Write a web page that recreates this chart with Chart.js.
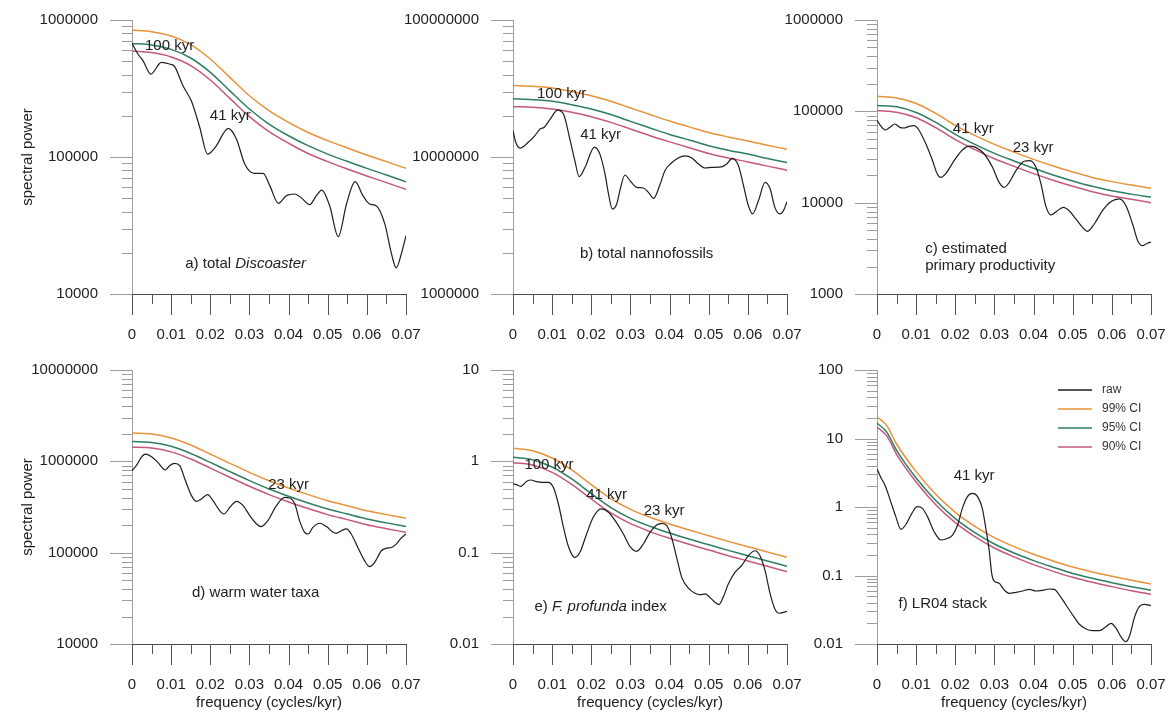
<!DOCTYPE html>
<html lang="en">
<head>
<meta charset="UTF-8">
<title>Spectral power of six records</title>
<script src="https://cdn.jsdelivr.net/npm/chart.js"></script>
<style>
  html, body { margin: 0; padding: 0; background: #fff; overflow: hidden; }
  .panel { position: absolute; width: 430px; height: 366px; }
</style>
</head>
<body>
<div class="panel" style="left:2px;top:0px"><canvas id="chartA" width="430" height="366"></canvas></div>
<div class="panel" style="left:383px;top:0px"><canvas id="chartB" width="430" height="366"></canvas></div>
<div class="panel" style="left:747px;top:0px"><canvas id="chartC" width="430" height="366"></canvas></div>
<div class="panel" style="left:2px;top:350px"><canvas id="chartD" width="430" height="366"></canvas></div>
<div class="panel" style="left:383px;top:350px"><canvas id="chartE" width="430" height="366"></canvas></div>
<div class="panel" style="left:747px;top:350px"><canvas id="chartF" width="430" height="366"></canvas></div>

<script>
// x axis ticks (frequency, cycles/kyr)
const xTickValues = [0, 0.01, 0.02, 0.03, 0.04, 0.05, 0.06, 0.07];
const xTickLabels = ['0', '0.01', '0.02', '0.03', '0.04', '0.05', '0.06', '0.07'];

// frequencies where the confidence curves were read
const ciFreq = [0, 0.005, 0.01, 0.015, 0.02, 0.025, 0.03, 0.035, 0.04, 0.045, 0.05, 0.055, 0.06, 0.065, 0.07];
const ciFreqF = [0, 0.0025, 0.005, 0.01, 0.015, 0.02, 0.025, 0.03, 0.035, 0.04, 0.045, 0.05, 0.055, 0.06, 0.065, 0.07];

// a) total Discoaster
const aDecades = [10000, 100000, 1000000];
const aRawF = [0, 0.0015, 0.0028, 0.0048, 0.0075, 0.0096, 0.0109, 0.0130, 0.0152, 0.0173, 0.0193, 0.0213, 0.0246, 0.0267, 0.0288, 0.0313, 0.0335, 0.0352, 0.0374, 0.0394, 0.0416, 0.0433, 0.0454, 0.0471, 0.0485, 0.0505, 0.0527, 0.0548, 0.0570, 0.0590, 0.0607, 0.0624, 0.0646, 0.0663, 0.0675, 0.0688, 0.07];
const aRawP = [675000, 565000, 505000, 403000, 491000, 477000, 457000, 332000, 255000, 165000, 105000, 118000, 162000, 135000, 89000, 76000, 76000, 61800, 45900, 52200, 53700, 50200, 44900, 52200, 57400, 44100, 26200, 45400, 66100, 52200, 45400, 44100, 32400, 19600, 15500, 19600, 26700];
const a99 = [845000, 822000, 764000, 661000, 519000, 381000, 280000, 218000, 179000, 151000, 131600, 116400, 103400, 92500, 82600];
const a95 = [675000, 657000, 610000, 528000, 415000, 304000, 224000, 174000, 143000, 121000, 105000, 93000, 82600, 73900, 66000];
const a90 = [594000, 578000, 537000, 465000, 365000, 268000, 197000, 153000, 126000, 106000, 92500, 81800, 72700, 65000, 58000];

// b) total nannofossils
const bDecades = [1000000, 10000000, 100000000];
const bRawF = [0, 0.0007, 0.0018, 0.0039, 0.0056, 0.0069, 0.0080, 0.0095, 0.0114, 0.0129, 0.0146, 0.0158, 0.0169, 0.0184, 0.0208, 0.0222, 0.0235, 0.0244, 0.0254, 0.0265, 0.0273, 0.0286, 0.0299, 0.0316, 0.0333, 0.0346, 0.0359, 0.0376, 0.0388, 0.0405, 0.0422, 0.0439, 0.0457, 0.0474, 0.0491, 0.0508, 0.0533, 0.0546, 0.0560, 0.0576, 0.0588, 0.0600, 0.0612, 0.0627, 0.0644, 0.0657, 0.0669, 0.0682, 0.0691, 0.07];
const bRawP = [15.6e6, 12.8e6, 11.6e6, 12.8e6, 14.3e6, 16.0e6, 16.5e6, 18.9e6, 22.0e6, 20.6e6, 13.2e6, 9.4e6, 7.19e6, 8.41e6, 11.8e6, 10.5e6, 7.52e6, 5.37e6, 4.17e6, 4.54e6, 5.68e6, 7.39e6, 6.72e6, 6.01e6, 5.94e6, 5.52e6, 4.99e6, 6.35e6, 7.95e6, 9.04e6, 9.84e6, 10.2e6, 9.84e6, 8.89e6, 8.31e6, 8.40e6, 8.48e6, 8.89e6, 9.78e6, 8.64e6, 6.35e6, 4.54e6, 3.84e6, 4.80e6, 6.53e6, 5.84e6, 4.29e6, 3.84e6, 4.06e6, 4.72e6];
const b99 = [33.2e6, 32.8e6, 31.9e6, 30.1e6, 28.0e6, 25.5e6, 22.8e6, 20.4e6, 18.3e6, 16.6e6, 15.1e6, 14.0e6, 13.1e6, 12.2e6, 11.4e6];
const b95 = [26.6e6, 26.2e6, 25.5e6, 24.1e6, 22.4e6, 20.4e6, 18.2e6, 16.3e6, 14.6e6, 13.3e6, 12.1e6, 11.2e6, 10.5e6, 9.76e6, 9.12e6];
const b90 = [23.3e6, 23.1e6, 22.4e6, 21.2e6, 19.7e6, 17.9e6, 16.0e6, 14.3e6, 12.9e6, 11.7e6, 10.6e6, 9.84e6, 9.21e6, 8.58e6, 8.01e6];

// c) estimated primary productivity
const cDecades = [1000, 10000, 100000, 1000000];
const cRawF = [0, 0.0009, 0.0021, 0.0035, 0.0046, 0.0058, 0.0069, 0.0082, 0.0095, 0.0107, 0.0125, 0.0142, 0.0154, 0.0163, 0.0176, 0.0197, 0.0218, 0.0235, 0.0252, 0.0274, 0.0295, 0.0312, 0.0325, 0.0338, 0.0355, 0.0376, 0.0391, 0.0406, 0.0419, 0.0431, 0.0444, 0.0461, 0.0476, 0.0491, 0.0508, 0.0525, 0.0538, 0.0555, 0.0576, 0.0598, 0.0619, 0.0636, 0.0653, 0.0666, 0.0679, 0.0691, 0.07];
const cRawP = [80400, 69700, 62500, 67900, 72700, 66800, 65700, 68500, 69700, 62500, 43900, 28800, 20600, 18900, 20900, 28800, 37700, 41700, 40300, 34100, 24400, 16700, 14700, 16700, 22400, 28400, 28800, 24400, 16000, 9270, 7330, 8170, 8890, 8170, 6630, 5370, 4860, 5840, 8170, 10300, 11000, 9270, 5840, 3840, 3380, 3590, 3710];
const c99 = [146000, 140000, 122000, 95100, 70300, 54600, 43500, 35900, 29800, 25200, 21700, 18900, 17000, 15600, 14400];
const c95 = [116000, 112000, 97200, 75800, 56000, 43500, 34700, 28600, 23800, 20100, 17300, 15100, 13500, 12400, 11500];
const c90 = [102000, 97600, 85000, 66300, 49000, 38100, 30300, 25000, 20800, 17600, 15100, 13200, 11800, 10900, 10000];

// d) warm water taxa
const dDecades = [10000, 100000, 1000000, 10000000];
const dRawF = [0, 0.0011, 0.0024, 0.0034, 0.0049, 0.0066, 0.0085, 0.0096, 0.0109, 0.0122, 0.0135, 0.0152, 0.0164, 0.0177, 0.0193, 0.0207, 0.0224, 0.0235, 0.0250, 0.0267, 0.0284, 0.0301, 0.0318, 0.0330, 0.0347, 0.0369, 0.0390, 0.0403, 0.0416, 0.0428, 0.0441, 0.0450, 0.0462, 0.0480, 0.0497, 0.0514, 0.0522, 0.0535, 0.0548, 0.0560, 0.0577, 0.0594, 0.0607, 0.0620, 0.0637, 0.0650, 0.0663, 0.0675, 0.0688, 0.07];
const dRawP = [791000, 897000, 1110000, 1200000, 1130000, 975000, 804000, 897000, 951000, 897000, 640000, 421000, 365000, 387000, 432000, 371000, 288000, 265000, 314000, 365000, 327000, 254000, 206000, 193000, 224000, 327000, 403000, 397000, 341000, 224000, 167000, 160000, 189000, 210000, 193000, 167000, 163000, 174000, 182000, 160000, 114000, 81800, 70300, 78400, 105000, 112000, 114000, 124000, 145000, 160000];
const d99 = [2040000, 1990000, 1800000, 1510000, 1200000, 951000, 758000, 614000, 511000, 432000, 371000, 327000, 288000, 261000, 238000];
const d95 = [1650000, 1610000, 1460000, 1220000, 973000, 771000, 615000, 498000, 414000, 350000, 301000, 265000, 234000, 212000, 193000];
const d90 = [1430000, 1400000, 1270000, 1060000, 844000, 669000, 533000, 432000, 359000, 304000, 261000, 230000, 202000, 183000, 167000];

// e) F. profunda index
const eDecades = [0.01, 0.1, 1, 10];
const eRawF = [0, 0.0009, 0.0020, 0.0035, 0.0046, 0.0058, 0.0073, 0.0090, 0.0103, 0.0116, 0.0129, 0.0141, 0.0154, 0.0158, 0.0171, 0.0188, 0.0205, 0.0225, 0.0244, 0.0261, 0.0282, 0.0299, 0.0316, 0.0333, 0.0350, 0.0367, 0.0380, 0.0393, 0.0405, 0.0418, 0.0431, 0.0448, 0.0465, 0.0478, 0.0491, 0.0503, 0.0516, 0.0526, 0.0537, 0.0550, 0.0567, 0.0584, 0.0601, 0.0618, 0.0631, 0.0644, 0.0657, 0.0669, 0.0680, 0.0691, 0.07];
const eRawP = [0.565, 0.555, 0.532, 0.604, 0.625, 0.604, 0.589, 0.589, 0.519, 0.341, 0.189, 0.119, 0.0904, 0.0889, 0.1009, 0.160, 0.244, 0.301, 0.277, 0.224, 0.160, 0.1163, 0.1034, 0.1245, 0.167, 0.201, 0.2096, 0.1977, 0.147, 0.0889, 0.0537, 0.0410, 0.0359, 0.0347, 0.0353, 0.0324, 0.0286, 0.0270, 0.0324, 0.0454, 0.0609, 0.0721, 0.0927, 0.105, 0.0927, 0.0635, 0.0353, 0.0242, 0.0217, 0.0222, 0.0228];
const e99 = [1.388, 1.309, 1.088, 0.804, 0.555, 0.390, 0.298, 0.244, 0.206, 0.177, 0.1535, 0.133, 0.1163, 0.1017, 0.0889];
const e95 = [1.106, 1.043, 0.867, 0.641, 0.442, 0.311, 0.2375, 0.1945, 0.164, 0.141, 0.1223, 0.106, 0.0927, 0.081, 0.0709];
const e90 = [0.967, 0.912, 0.758, 0.560, 0.387, 0.272, 0.2077, 0.170, 0.1436, 0.1234, 0.107, 0.0927, 0.0811, 0.0709, 0.062];

// f) LR04 stack
const fDecades = [0.01, 0.1, 1, 10, 100];
const fRawF = [0, 0.0009, 0.0022, 0.0035, 0.0048, 0.0061, 0.0073, 0.0089, 0.0103, 0.0116, 0.0129, 0.0146, 0.0163, 0.0176, 0.0193, 0.0206, 0.0218, 0.0231, 0.0244, 0.0257, 0.0269, 0.0278, 0.0287, 0.0293, 0.0299, 0.0312, 0.0325, 0.0338, 0.0355, 0.0372, 0.0389, 0.0406, 0.0423, 0.0440, 0.0453, 0.0466, 0.0483, 0.0500, 0.0517, 0.0534, 0.0551, 0.0568, 0.0585, 0.0598, 0.0611, 0.0623, 0.0636, 0.0646, 0.0657, 0.0670, 0.0683, 0.07];
const fRawP = [3.59, 2.77, 1.98, 1.20, 0.723, 0.472, 0.546, 0.808, 1.01, 0.955, 0.723, 0.436, 0.330, 0.341, 0.390, 0.546, 0.955, 1.42, 1.58, 1.42, 0.955, 0.489, 0.223, 0.1076, 0.0832, 0.0769, 0.0614, 0.0549, 0.0568, 0.0594, 0.0628, 0.0594, 0.0608, 0.0635, 0.0628, 0.0519, 0.0371, 0.0265, 0.0194, 0.0166, 0.0157, 0.0157, 0.0179, 0.0200, 0.0169, 0.0128, 0.0108, 0.0135, 0.0237, 0.0351, 0.0379, 0.0363];
const f99 = [20.8, 15.4, 8.31, 3.28, 1.53, 0.836, 0.522, 0.357, 0.264, 0.204, 0.163, 0.133, 0.1125, 0.0973, 0.085, 0.0752];
const f95 = [16.8, 12.4, 6.71, 2.65, 1.24, 0.675, 0.422, 0.288, 0.213, 0.165, 0.132, 0.107, 0.0909, 0.0786, 0.0687, 0.0608];
const f90 = [14.7, 10.9, 5.88, 2.32, 1.08, 0.591, 0.369, 0.252, 0.187, 0.144, 0.115, 0.094, 0.0795, 0.0688, 0.0601, 0.0532];

const FONT = "'Liberation Sans', Arial, Helvetica, sans-serif";
const TXT = '#222';
const colRaw = '#1e1e1e', col99 = '#e8923a', col95 = '#2f7d63', col90 = '#c4587f';
const CLEAR = 'rgba(0,0,0,0)';

Chart.defaults.font.family = FONT;
Chart.defaults.color = TXT;

function toXY(xs, ys) {
  return xs.map((x, i) => ({ x: x, y: ys[i] }));
}

// tick marks drawn outside the plot, long at decades / labelled freqs, short otherwise
const axisMarks = {
  id: 'axisMarks',
  afterDraw(chart) {
    const { ctx, chartArea: ca, scales: { x, y } } = chart;
    ctx.save();
    ctx.lineWidth = 1;
    ctx.strokeStyle = '#9c9c9c';
    ctx.beginPath();
    y.ticks.forEach(t => {
      const py = Math.round(y.getPixelForValue(t.value)) + 0.5;
      const len = t.big ? 22 : 10;
      ctx.moveTo(ca.left - len, py);
      ctx.lineTo(ca.left, py);
    });
    ctx.stroke();

    ctx.strokeStyle = '#555';
    ctx.beginPath();
    const xs = x.ticks.map(t => x.getPixelForValue(t.value));
    xs.forEach((px, i) => {
      const p = Math.round(px) + 0.5;
      ctx.moveTo(p, ca.bottom);
      ctx.lineTo(p, ca.bottom + 21);
      if (i < xs.length - 1) {
        const m = Math.round((px + xs[i + 1]) / 2) + 0.5;
        ctx.moveTo(m, ca.bottom);
        ctx.lineTo(m, ca.bottom + 10);
      }
    });
    ctx.stroke();
    ctx.restore();
  }
};

// text notes (peaks, panel names) and the small legend of panel f
function makeNotes(notes, withLegend) {
  return {
    id: 'notes',
    afterDraw(chart) {
      const { ctx, chartArea: ca, scales: { x, y } } = chart;
      ctx.save();
      ctx.fillStyle = TXT;
      ctx.textBaseline = 'middle';
      notes.forEach(n => {
        const px = x.getPixelForValue(n.x);
        const py = y.getPixelForValue(n.y);
        let total = 0;
        n.parts.forEach(p => {
          ctx.font = (p.it ? 'italic ' : '') + '15px ' + FONT;
          total += ctx.measureText(p.t).width;
        });
        let cx = n.align === 'left' ? px : px - total / 2;
        n.parts.forEach(p => {
          ctx.font = (p.it ? 'italic ' : '') + '15px ' + FONT;
          ctx.textAlign = 'left';
          ctx.fillText(p.t, cx, py);
          cx += ctx.measureText(p.t).width;
        });
      });
      if (withLegend) {
        ctx.font = '12px ' + FONT;
        ctx.fillStyle = '#333';
        chart.data.datasets.forEach((d, i) => {
          const ly = ca.top + 20 + i * 19;
          ctx.strokeStyle = d.borderColor;
          ctx.lineWidth = 1.5;
          ctx.beginPath();
          ctx.moveTo(ca.left + 181, ly);
          ctx.lineTo(ca.left + 215, ly);
          ctx.stroke();
          ctx.fillText(d.label, ca.left + 225, ly);
        });
      }
      ctx.restore();
    }
  };
}

function buildChart(id, p) {
  const datasets = [
    { label: 'raw', data: toXY(p.rawF, p.rawP), borderColor: colRaw, borderWidth: 1.2 },
    { label: '99% CI', data: toXY(p.ciF, p.ci99), borderColor: col99, borderWidth: 1.5 },
    { label: '95% CI', data: toXY(p.ciF, p.ci95), borderColor: col95, borderWidth: 1.5 },
    { label: '90% CI', data: toXY(p.ciF, p.ci90), borderColor: col90, borderWidth: 1.5 }
  ];
  datasets.forEach(d => Object.assign(d, { pointRadius: 0, fill: false, cubicInterpolationMode: 'monotone' }));

  const dec = p.decades;
  return new Chart(document.getElementById(id), {
    type: 'line',
    data: { datasets: datasets },
    options: {
      responsive: false,
      animation: false,
      events: [],
      layout: { padding: { left: 0, top: 20, right: 26, bottom: 0 } },
      plugins: { legend: { display: false }, tooltip: { enabled: false } },
      scales: {
        x: {
          type: 'linear',
          min: 0,
          max: 0.07,
          afterBuildTicks: s => { s.ticks = xTickValues.map(v => ({ value: v })); },
          afterFit: s => { s.height = 72; },
          ticks: {
            autoSkip: false, maxRotation: 0, padding: 0, color: TXT,
            font: { family: FONT, size: 15 },
            callback: (v, i) => xTickLabels[i]
          },
          // invisible tick marks only push the labels away from the axis
          grid: { display: true, drawOnChartArea: false, drawTicks: true, tickLength: 32, tickColor: CLEAR, color: CLEAR },
          border: { display: true, color: '#4a4a4a', width: 1 },
          title: {
            display: !!p.xTitle, text: 'frequency (cycles/kyr)', color: TXT,
            font: { family: FONT, size: 15 }, padding: { top: 0, bottom: 4 }
          }
        },
        y: {
          type: 'logarithmic',
          min: dec[0],
          max: dec[dec.length - 1],
          afterBuildTicks: s => {
            const t = [];
            dec.forEach((d, i) => {
              t.push({ value: d, big: true });
              if (i < dec.length - 1) {
                for (let m = 2; m <= 9; m++) t.push({ value: m * d, big: false });
              }
            });
            s.ticks = t;
          },
          afterFit: s => { s.width = 130; },
          ticks: {
            autoSkip: false, padding: 0, color: TXT,
            font: { family: FONT, size: 15 },
            callback: (v, i, t) => (t[i].big ? String(v) : '')
          },
          grid: { display: true, drawOnChartArea: false, drawTicks: true, tickLength: 34, tickColor: CLEAR, color: CLEAR },
          border: { display: true, color: '#a0a0a0', width: 1 },
          title: {
            display: !!p.yTitle, text: 'spectral power', color: TXT,
            font: { family: FONT, size: 15 }, padding: { top: 17, bottom: 0 }
          }
        }
      }
    },
    plugins: [axisMarks, makeNotes(p.notes, p.legend)]
  });
}

buildChart('chartA', {
  rawF: aRawF, rawP: aRawP, ciF: ciFreq, ci99: a99, ci95: a95, ci90: a90,
  decades: aDecades, yTitle: true,
  notes: [
    { x: 0.0096, y: 643000, parts: [{ t: '100 kyr' }] },
    { x: 0.0251, y: 198000, parts: [{ t: '41 kyr' }] },
    { x: 0.0136, y: 16700, align: 'left', parts: [{ t: 'a) total ' }, { t: 'Discoaster', it: true }] }
  ]
});

buildChart('chartB', {
  rawF: bRawF, rawP: bRawP, ciF: ciFreq, ci99: b99, ci95: b95, ci90: b90,
  decades: bDecades,
  notes: [
    { x: 0.0124, y: 28.8e6, parts: [{ t: '100 kyr' }] },
    { x: 0.0224, y: 14.6e6, parts: [{ t: '41 kyr' }] },
    { x: 0.0171, y: 1.96e6, align: 'left', parts: [{ t: 'b) total nannofossils' }] }
  ]
});

buildChart('chartC', {
  rawF: cRawF, rawP: cRawP, ciF: ciFreq, ci99: c99, ci95: c95, ci90: c90,
  decades: cDecades,
  notes: [
    { x: 0.0246, y: 64100, parts: [{ t: '41 kyr' }] },
    { x: 0.0399, y: 39700, parts: [{ t: '23 kyr' }] },
    { x: 0.0123, y: 3110, align: 'left', parts: [{ t: 'c) estimated' }] },
    { x: 0.0123, y: 2040, align: 'left', parts: [{ t: 'primary productivity' }] }
  ]
});

buildChart('chartD', {
  rawF: dRawF, rawP: dRawP, ciF: ciFreq, ci99: d99, ci95: d95, ci90: d90,
  decades: dDecades, yTitle: true, xTitle: true,
  notes: [
    { x: 0.040, y: 556000, parts: [{ t: '23 kyr' }] },
    { x: 0.0153, y: 36100, align: 'left', parts: [{ t: 'd) warm water taxa' }] }
  ]
});

buildChart('chartE', {
  rawF: eRawF, rawP: eRawP, ciF: ciFreq, ci99: e99, ci95: e95, ci90: e90,
  decades: eDecades, xTitle: true,
  notes: [
    { x: 0.0092, y: 0.919, parts: [{ t: '100 kyr' }] },
    { x: 0.0239, y: 0.431, parts: [{ t: '41 kyr' }] },
    { x: 0.0386, y: 0.284, parts: [{ t: '23 kyr' }] },
    { x: 0.0055, y: 0.0258, align: 'left', parts: [{ t: 'e) ' }, { t: 'F. profunda', it: true }, { t: ' index' }] }
  ]
});

buildChart('chartF', {
  rawF: fRawF, rawP: fRawP, ciF: ciFreqF, ci99: f99, ci95: f95, ci90: f90,
  decades: fDecades, xTitle: true, legend: true,
  notes: [
    { x: 0.0248, y: 2.87, parts: [{ t: '41 kyr' }] },
    { x: 0.0055, y: 0.0384, align: 'left', parts: [{ t: 'f) LR04 stack' }] }
  ]
});
</script>
</body>
</html>
